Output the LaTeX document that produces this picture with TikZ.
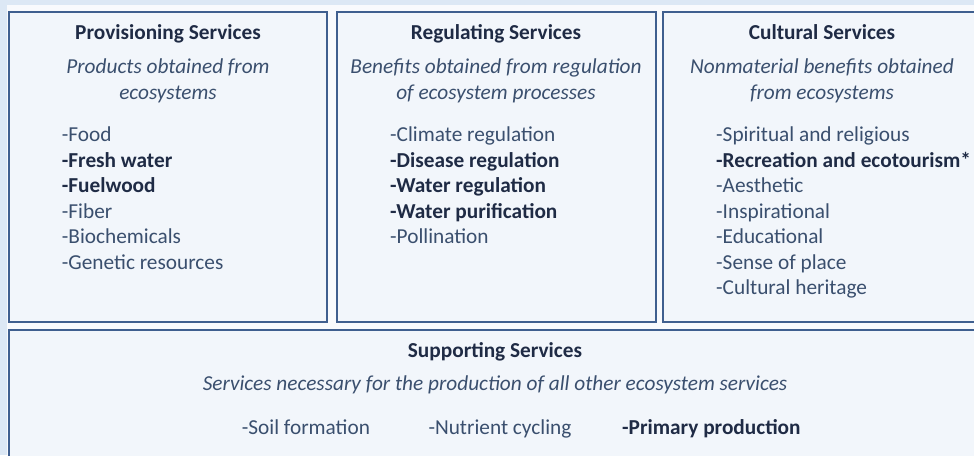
\documentclass[tikz,border=0pt]{standalone}
\usepackage{fontspec}
\setmainfont{Carlito}
\definecolor{bgblue}{HTML}{DCE8F5}
\definecolor{inner}{HTML}{F8FAFD}
\definecolor{boxfill}{HTML}{F2F6FB}
\definecolor{boxline}{HTML}{3F5F8F}
\definecolor{txt}{HTML}{3A4F6E}
\definecolor{txtb}{HTML}{1F2B45}
\tikzset{
  panel/.style={draw=boxline, line width=2.2pt, fill=boxfill},
  title/.style={font=\fontsize{21.3}{25.5}\selectfont\bfseries, text=txtb, anchor=base, inner sep=0pt},
  desc/.style={font=\fontsize{21.3}{25.5}\selectfont\itshape, text=txt, anchor=base, inner sep=0pt},
  item/.style={font=\fontsize{21.3}{25.5}\selectfont, text=txt, anchor=base west, inner sep=0pt},
  bitem/.style={item, font=\fontsize{21.3}{25.5}\selectfont\bfseries, text=txtb},
}
\begin{document}
\begin{tikzpicture}[x=1pt,y=-1pt]
\useasboundingbox (0,0) rectangle (974,455);
\fill[bgblue] (0,0) rectangle (974,455);
\fill[inner] (7,5) rectangle (974,455);
% panels
\draw[panel] (9,12) rectangle (327,322);
\draw[panel] (337,12) rectangle (656,322);
\draw[panel] (663,12) rectangle (980,322);
\draw[panel] (9,330) rectangle (980,462);
% Provisioning
\node[title] (pt) at (168,39.3) {Provisioning Services};
\node[desc] (pd1) at (168,73.3) {Products obtained from};
\node[desc] (pd2) at (168,99) {ecosystems};
\foreach \t/\s [count=\i] in {-Food/item, -Fresh water/bitem, -Fuelwood/bitem, -Fiber/item, -Biochemicals/item, -Genetic resources/item}
  \node[\s] (p\i) at (61.7,141.7+25.5*\i-25.5) {\t};
% Regulating
\node[title] (rt) at (496,39.3) {Regulating Services};
\node[desc] (rd1) at (496,73.3) {Benefits obtained from regulation};
\node[desc] (rd2) at (496,99) {of ecosystem processes};
\foreach \t/\s [count=\i] in {-Climate regulation/item, -Disease regulation/bitem, -Water regulation/bitem, -Water purification/bitem, -Pollination/item}
  \node[\s] (r\i) at (390,141.7+25.5*\i-25.5) {\t};
% Cultural
\node[title] (ct) at (822,39.3) {Cultural Services};
\node[desc] (cd1) at (822,73.3) {Nonmaterial benefits obtained};
\node[desc] (cd2) at (822,99) {from ecosystems};
\foreach \t/\s [count=\i] in {-Spiritual and religious/item, -Recreation and ecotourism*/bitem, -Aesthetic/item, -Inspirational/item, -Educational/item, -Sense of place/item, -Cultural heritage/item}
  \node[\s] (c\i) at (716,141.7+25.5*\i-25.5) {\t};
% Supporting
\node[title] (st) at (495,357.7) {Supporting Services};
\node[desc] (sd) at (495,390) {Services necessary for the production of all other ecosystem services};
\node[item] (s1) at (241.7,434.3) {-Soil formation};
\node[item] (s2) at (428.3,434.3) {-Nutrient cycling};
\node[bitem] (s3) at (622,434.3) {-Primary production};
\end{tikzpicture}
\end{document}
